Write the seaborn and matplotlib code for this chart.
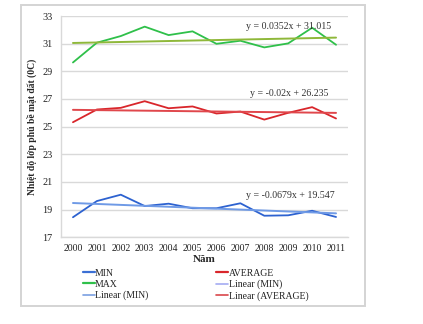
import numpy as np
import pandas as pd
import seaborn as sns
import matplotlib.pyplot as plt
from matplotlib.lines import Line2D
from matplotlib.patches import Rectangle

years = [2000, 2001, 2002, 2003, 2004, 2005, 2006, 2007, 2008, 2009, 2010, 2011]
t_min = [18.45, 19.62, 20.08, 19.26, 19.43, 19.10, 19.10, 19.46, 18.56, 18.59, 18.92, 18.47]
t_avg = [25.32, 26.24, 26.36, 26.84, 26.33, 26.46, 25.95, 26.09, 25.51, 26.00, 26.41, 25.59]
t_max = [29.64, 31.07, 31.55, 32.23, 31.62, 31.89, 30.99, 31.21, 30.73, 31.02, 32.15, 30.92]

# linear trend coefficients (x = 1..12)
trend_slope = {"MIN": -0.0679, "AVERAGE": -0.02, "MAX": 0.0352}
trend_icpt = {"MIN": 19.547, "AVERAGE": 26.235, "MAX": 31.015}
y_ticks = [17, 19, 21, 23, 25, 27, 29, 31, 33]

sns.set_theme(style="white")
plt.rcParams["font.family"] = ["Liberation Serif", "DejaVu Serif"]

fig = plt.figure(figsize=(4.23, 3.24), dpi=100)
ax = fig.add_axes([61 / 423, 1 - 237.3 / 324, 287 / 423, 221.3 / 324])

# chart frame
fig.patches.append(Rectangle((21 / 423, 1 - 306 / 324), 344 / 423, 301 / 324,
                             transform=fig.transFigure, fill=False,
                             edgecolor="#d4d4d4", linewidth=1.4, zorder=0))

df = pd.DataFrame({"year": years, "MIN": t_min, "AVERAGE": t_avg, "MAX": t_max})
x_idx = np.arange(1, len(years) + 1)

colors = {"MIN": "#2d62d0", "AVERAGE": "#d9262b", "MAX": "#2fc04a"}
trend_colors = {"MIN": "#6f9ae6", "AVERAGE": "#e0474c", "MAX": "#8fb83a"}

for name in ["MAX", "AVERAGE", "MIN"]:
    sns.lineplot(data=df, x="year", y=name, ax=ax, color=colors[name],
                 linewidth=1.3, legend=False)
    trend = trend_slope[name] * x_idx + trend_icpt[name]
    sns.lineplot(x=years, y=trend, ax=ax, color=trend_colors[name],
                 linewidth=1.4, legend=False)

ax.set_xlim(years[0] - 0.5, years[-1] + 0.5)
ax.set_ylim(17, 33)
ax.set_yticks(y_ticks)
ax.set_xticks(years)
ax.set_xticklabels([str(y) for y in years])
ax.grid(axis="y", color="#d9d9d9", linewidth=1.0)
ax.set_axisbelow(True)
for s in ["top", "right"]:
    ax.spines[s].set_visible(False)
for s in ["left", "bottom"]:
    ax.spines[s].set_color("#d9d9d9")
    ax.spines[s].set_linewidth(1.0)
ax.tick_params(axis="x", length=0, labelsize=7, pad=5, colors="#222222")
ax.tick_params(axis="y", length=0, labelsize=7.3, pad=6, colors="#222222")

ax.set_xlabel("Năm", fontsize=8, fontweight="bold", labelpad=1)
ax.set_ylabel("Nhiệt độ lớp phủ bề mặt đất (0C)", fontsize=6.9,
              fontweight="bold", labelpad=4)

eq_text = {
    "MAX": (2009.0, 32.23, "y = 0.0352x + 31.015"),
    "AVERAGE": (2009.05, 27.38, "y = -0.02x + 26.235"),
    "MIN": (2009.1, 19.99, "y = -0.0679x + 19.547"),
}
for name, (ex, ey, txt) in eq_text.items():
    ax.text(ex, ey, txt, ha="center", va="center", fontsize=7.1, color="#333333")

handles = [
    Line2D([], [], color="#3b6fd4", lw=1.6),
    Line2D([], [], color="#2fc04a", lw=1.6),
    Line2D([], [], color="#7aa0e2", lw=1.2),
    Line2D([], [], color="#d9262b", lw=1.6),
    Line2D([], [], color="#a4acf2", lw=1.2),
    Line2D([], [], color="#d9474c", lw=1.2),
]
labels = ["MIN", "MAX", "Linear (MIN)", "AVERAGE", "Linear (MIN)", "Linear (AVERAGE)"]
fig.legend(handles, labels, ncol=2, loc="upper left",
           bbox_to_anchor=(83 / 423, 1 - 268.5 / 324), frameon=False,
           fontsize=7, handlelength=1.2, handletextpad=0.05,
           columnspacing=7.0, labelspacing=0.22, borderpad=0, borderaxespad=0,
           labelcolor="#222222")

fig.savefig("out.png", dpi=100)
